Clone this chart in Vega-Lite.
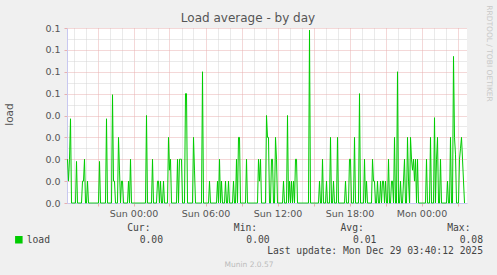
{
"$schema": "https://vega.github.io/schema/vega-lite/v6.json",
"width": 400,
"height": 175,
"autosize": {"type": "none"},
"padding": {"left": 67, "top": 28, "right": 30, "bottom": 72},
"background": "#f0f0f0",
"title": {"text": "Load average - by day", "font": "DejaVu Sans", "fontSize": 12, "fontWeight": "normal", "color": "#555555", "anchor": "middle", "dx": -19, "offset": -20.5, "frame": "group"},
"config": {"view": {"fill": "white", "stroke": null}, "font": "DejaVu Sans"},
"datasets": {
"load": [
{"t":"2025-12-27T18:30","v":0.02},{"t":"2025-12-27T18:35","v":0.01},{"t":"2025-12-27T18:40","v":0.02},{"t":"2025-12-27T18:45","v":0.0385},{"t":"2025-12-27T18:50","v":0},{"t":"2025-12-27T18:55","v":0},
{"t":"2025-12-27T19:00","v":0},{"t":"2025-12-27T19:05","v":0},{"t":"2025-12-27T19:10","v":0},{"t":"2025-12-27T19:15","v":0.019},{"t":"2025-12-27T19:20","v":0},{"t":"2025-12-27T19:25","v":0},{"t":"2025-12-27T19:30","v":0},{"t":"2025-12-27T19:35","v":0},{"t":"2025-12-27T19:40","v":0},{"t":"2025-12-27T19:45","v":0.01},{"t":"2025-12-27T19:50","v":0.01},{"t":"2025-12-27T19:55","v":0.02},
{"t":"2025-12-27T20:00","v":0},{"t":"2025-12-27T20:05","v":0},{"t":"2025-12-27T20:10","v":0.01},{"t":"2025-12-27T20:15","v":0},{"t":"2025-12-27T20:20","v":0},{"t":"2025-12-27T20:25","v":0},{"t":"2025-12-27T20:30","v":0},{"t":"2025-12-27T20:35","v":0},{"t":"2025-12-27T20:40","v":0},{"t":"2025-12-27T20:45","v":0},{"t":"2025-12-27T20:50","v":0},{"t":"2025-12-27T20:55","v":0},
{"t":"2025-12-27T21:00","v":0},{"t":"2025-12-27T21:05","v":0},{"t":"2025-12-27T21:10","v":0.019},{"t":"2025-12-27T21:15","v":0},{"t":"2025-12-27T21:20","v":0},{"t":"2025-12-27T21:25","v":0},{"t":"2025-12-27T21:30","v":0},{"t":"2025-12-27T21:35","v":0},{"t":"2025-12-27T21:40","v":0},{"t":"2025-12-27T21:45","v":0.0385},{"t":"2025-12-27T21:50","v":0},{"t":"2025-12-27T21:55","v":0},
{"t":"2025-12-27T22:00","v":0},{"t":"2025-12-27T22:05","v":0},{"t":"2025-12-27T22:10","v":0},{"t":"2025-12-27T22:15","v":0.0495},{"t":"2025-12-27T22:20","v":0.01},{"t":"2025-12-27T22:25","v":0.01},{"t":"2025-12-27T22:30","v":0},{"t":"2025-12-27T22:35","v":0},{"t":"2025-12-27T22:40","v":0},{"t":"2025-12-27T22:45","v":0.03},{"t":"2025-12-27T22:50","v":0.015},{"t":"2025-12-27T22:55","v":0},
{"t":"2025-12-27T23:00","v":0.01},{"t":"2025-12-27T23:05","v":0.01},{"t":"2025-12-27T23:10","v":0},{"t":"2025-12-27T23:15","v":0},{"t":"2025-12-27T23:20","v":0},{"t":"2025-12-27T23:25","v":0},{"t":"2025-12-27T23:30","v":0},{"t":"2025-12-27T23:35","v":0.01},{"t":"2025-12-27T23:40","v":0},{"t":"2025-12-27T23:45","v":0.02},{"t":"2025-12-27T23:50","v":0},{"t":"2025-12-27T23:55","v":0},
{"t":"2025-12-28T00:00","v":0},{"t":"2025-12-28T00:05","v":0},{"t":"2025-12-28T00:10","v":0},{"t":"2025-12-28T00:15","v":0},{"t":"2025-12-28T00:20","v":0},{"t":"2025-12-28T00:25","v":0},{"t":"2025-12-28T00:30","v":0},{"t":"2025-12-28T00:35","v":0},{"t":"2025-12-28T00:40","v":0},{"t":"2025-12-28T00:45","v":0},{"t":"2025-12-28T00:50","v":0},{"t":"2025-12-28T00:55","v":0},
{"t":"2025-12-28T01:00","v":0},{"t":"2025-12-28T01:05","v":0.04},{"t":"2025-12-28T01:10","v":0},{"t":"2025-12-28T01:15","v":0},{"t":"2025-12-28T01:20","v":0},{"t":"2025-12-28T01:25","v":0},{"t":"2025-12-28T01:30","v":0},{"t":"2025-12-28T01:35","v":0.02},{"t":"2025-12-28T01:40","v":0},{"t":"2025-12-28T01:45","v":0},{"t":"2025-12-28T01:50","v":0},{"t":"2025-12-28T01:55","v":0},
{"t":"2025-12-28T02:00","v":0.01},{"t":"2025-12-28T02:05","v":0.01},{"t":"2025-12-28T02:10","v":0},{"t":"2025-12-28T02:15","v":0.01},{"t":"2025-12-28T02:20","v":0},{"t":"2025-12-28T02:25","v":0},{"t":"2025-12-28T02:30","v":0.01},{"t":"2025-12-28T02:35","v":0},{"t":"2025-12-28T02:40","v":0},{"t":"2025-12-28T02:45","v":0},{"t":"2025-12-28T02:50","v":0},{"t":"2025-12-28T02:55","v":0.03},
{"t":"2025-12-28T03:00","v":0.015},{"t":"2025-12-28T03:05","v":0.02},{"t":"2025-12-28T03:10","v":0},{"t":"2025-12-28T03:15","v":0},{"t":"2025-12-28T03:20","v":0},{"t":"2025-12-28T03:25","v":0},{"t":"2025-12-28T03:30","v":0},{"t":"2025-12-28T03:35","v":0},{"t":"2025-12-28T03:40","v":0.02},{"t":"2025-12-28T03:45","v":0},{"t":"2025-12-28T03:50","v":0.02},{"t":"2025-12-28T03:55","v":0.02},
{"t":"2025-12-28T04:00","v":0.02},{"t":"2025-12-28T04:05","v":0},{"t":"2025-12-28T04:10","v":0},{"t":"2025-12-28T04:15","v":0},{"t":"2025-12-28T04:20","v":0.05},{"t":"2025-12-28T04:25","v":0.05},{"t":"2025-12-28T04:30","v":0},{"t":"2025-12-28T04:35","v":0},{"t":"2025-12-28T04:40","v":0},{"t":"2025-12-28T04:45","v":0},{"t":"2025-12-28T04:50","v":0},{"t":"2025-12-28T04:55","v":0},
{"t":"2025-12-28T05:00","v":0.03},{"t":"2025-12-28T05:05","v":0.015},{"t":"2025-12-28T05:10","v":0},{"t":"2025-12-28T05:15","v":0},{"t":"2025-12-28T05:20","v":0},{"t":"2025-12-28T05:25","v":0},{"t":"2025-12-28T05:30","v":0},{"t":"2025-12-28T05:35","v":0},{"t":"2025-12-28T05:40","v":0},{"t":"2025-12-28T05:45","v":0.06},{"t":"2025-12-28T05:50","v":0},{"t":"2025-12-28T05:55","v":0},
{"t":"2025-12-28T06:00","v":0},{"t":"2025-12-28T06:05","v":0},{"t":"2025-12-28T06:10","v":0},{"t":"2025-12-28T06:15","v":0},{"t":"2025-12-28T06:20","v":0.01},{"t":"2025-12-28T06:25","v":0},{"t":"2025-12-28T06:30","v":0},{"t":"2025-12-28T06:35","v":0},{"t":"2025-12-28T06:40","v":0},{"t":"2025-12-28T06:45","v":0},{"t":"2025-12-28T06:50","v":0},{"t":"2025-12-28T06:55","v":0},
{"t":"2025-12-28T07:00","v":0.01},{"t":"2025-12-28T07:05","v":0},{"t":"2025-12-28T07:10","v":0.02},{"t":"2025-12-28T07:15","v":0},{"t":"2025-12-28T07:20","v":0.01},{"t":"2025-12-28T07:25","v":0},{"t":"2025-12-28T07:30","v":0},{"t":"2025-12-28T07:35","v":0},{"t":"2025-12-28T07:40","v":0.01},{"t":"2025-12-28T07:45","v":0},{"t":"2025-12-28T07:50","v":0},{"t":"2025-12-28T07:55","v":0.01},
{"t":"2025-12-28T08:00","v":0},{"t":"2025-12-28T08:05","v":0},{"t":"2025-12-28T08:10","v":0},{"t":"2025-12-28T08:15","v":0},{"t":"2025-12-28T08:20","v":0.01},{"t":"2025-12-28T08:25","v":0},{"t":"2025-12-28T08:30","v":0},{"t":"2025-12-28T08:35","v":0.02},{"t":"2025-12-28T08:40","v":0},{"t":"2025-12-28T08:45","v":0.03},{"t":"2025-12-28T08:50","v":0.03},{"t":"2025-12-28T08:55","v":0},
{"t":"2025-12-28T09:00","v":0},{"t":"2025-12-28T09:05","v":0},{"t":"2025-12-28T09:10","v":0},{"t":"2025-12-28T09:15","v":0},{"t":"2025-12-28T09:20","v":0},{"t":"2025-12-28T09:25","v":0.02},{"t":"2025-12-28T09:30","v":0},{"t":"2025-12-28T09:35","v":0},{"t":"2025-12-28T09:40","v":0},{"t":"2025-12-28T09:45","v":0},{"t":"2025-12-28T09:50","v":0},{"t":"2025-12-28T09:55","v":0},
{"t":"2025-12-28T10:00","v":0},{"t":"2025-12-28T10:05","v":0},{"t":"2025-12-28T10:10","v":0},{"t":"2025-12-28T10:15","v":0},{"t":"2025-12-28T10:20","v":0},{"t":"2025-12-28T10:25","v":0.02},{"t":"2025-12-28T10:30","v":0.01},{"t":"2025-12-28T10:35","v":0.02},{"t":"2025-12-28T10:40","v":0},{"t":"2025-12-28T10:45","v":0},{"t":"2025-12-28T10:50","v":0},{"t":"2025-12-28T10:55","v":0},
{"t":"2025-12-28T11:00","v":0},{"t":"2025-12-28T11:05","v":0.04},{"t":"2025-12-28T11:10","v":0.03},{"t":"2025-12-28T11:15","v":0.03},{"t":"2025-12-28T11:20","v":0},{"t":"2025-12-28T11:25","v":0},{"t":"2025-12-28T11:30","v":0.02},{"t":"2025-12-28T11:35","v":0.02},{"t":"2025-12-28T11:40","v":0},{"t":"2025-12-28T11:45","v":0},{"t":"2025-12-28T11:50","v":0.03},{"t":"2025-12-28T11:55","v":0.02},
{"t":"2025-12-28T12:00","v":0},{"t":"2025-12-28T12:05","v":0},{"t":"2025-12-28T12:10","v":0},{"t":"2025-12-28T12:15","v":0},{"t":"2025-12-28T12:20","v":0},{"t":"2025-12-28T12:25","v":0},{"t":"2025-12-28T12:30","v":0.01},{"t":"2025-12-28T12:35","v":0},{"t":"2025-12-28T12:40","v":0},{"t":"2025-12-28T12:45","v":0},{"t":"2025-12-28T12:50","v":0.04},{"t":"2025-12-28T12:55","v":0},
{"t":"2025-12-28T13:00","v":0.01},{"t":"2025-12-28T13:05","v":0},{"t":"2025-12-28T13:10","v":0.01},{"t":"2025-12-28T13:15","v":0},{"t":"2025-12-28T13:20","v":0.01},{"t":"2025-12-28T13:25","v":0},{"t":"2025-12-28T13:30","v":0.02},{"t":"2025-12-28T13:35","v":0.02},{"t":"2025-12-28T13:40","v":0},{"t":"2025-12-28T13:45","v":0},{"t":"2025-12-28T13:50","v":0},{"t":"2025-12-28T13:55","v":0},
{"t":"2025-12-28T14:00","v":0},{"t":"2025-12-28T14:05","v":0},{"t":"2025-12-28T14:10","v":0},{"t":"2025-12-28T14:15","v":0},{"t":"2025-12-28T14:20","v":0},{"t":"2025-12-28T14:25","v":0},{"t":"2025-12-28T14:30","v":0},{"t":"2025-12-28T14:35","v":0},{"t":"2025-12-28T14:40","v":0.079},{"t":"2025-12-28T14:45","v":0},{"t":"2025-12-28T14:50","v":0},{"t":"2025-12-28T14:55","v":0},
{"t":"2025-12-28T15:00","v":0},{"t":"2025-12-28T15:05","v":0},{"t":"2025-12-28T15:10","v":0},{"t":"2025-12-28T15:15","v":0},{"t":"2025-12-28T15:20","v":0},{"t":"2025-12-28T15:25","v":0},{"t":"2025-12-28T15:30","v":0.01},{"t":"2025-12-28T15:35","v":0},{"t":"2025-12-28T15:40","v":0},{"t":"2025-12-28T15:45","v":0.02},{"t":"2025-12-28T15:50","v":0},{"t":"2025-12-28T15:55","v":0},
{"t":"2025-12-28T16:00","v":0},{"t":"2025-12-28T16:05","v":0.01},{"t":"2025-12-28T16:10","v":0},{"t":"2025-12-28T16:15","v":0},{"t":"2025-12-28T16:20","v":0},{"t":"2025-12-28T16:25","v":0.03},{"t":"2025-12-28T16:30","v":0},{"t":"2025-12-28T16:35","v":0},{"t":"2025-12-28T16:40","v":0.01},{"t":"2025-12-28T16:45","v":0},{"t":"2025-12-28T16:50","v":0},{"t":"2025-12-28T16:55","v":0},
{"t":"2025-12-28T17:00","v":0.03},{"t":"2025-12-28T17:05","v":0},{"t":"2025-12-28T17:10","v":0},{"t":"2025-12-28T17:15","v":0},{"t":"2025-12-28T17:20","v":0},{"t":"2025-12-28T17:25","v":0},{"t":"2025-12-28T17:30","v":0},{"t":"2025-12-28T17:35","v":0},{"t":"2025-12-28T17:40","v":0.01},{"t":"2025-12-28T17:45","v":0},{"t":"2025-12-28T17:50","v":0},{"t":"2025-12-28T17:55","v":0},
{"t":"2025-12-28T18:00","v":0.02},{"t":"2025-12-28T18:05","v":0.02},{"t":"2025-12-28T18:10","v":0},{"t":"2025-12-28T18:15","v":0},{"t":"2025-12-28T18:20","v":0},{"t":"2025-12-28T18:25","v":0.03},{"t":"2025-12-28T18:30","v":0},{"t":"2025-12-28T18:35","v":0},{"t":"2025-12-28T18:40","v":0},{"t":"2025-12-28T18:45","v":0},{"t":"2025-12-28T18:50","v":0.05},{"t":"2025-12-28T18:55","v":0},
{"t":"2025-12-28T19:00","v":0},{"t":"2025-12-28T19:05","v":0},{"t":"2025-12-28T19:10","v":0},{"t":"2025-12-28T19:15","v":0.02},{"t":"2025-12-28T19:20","v":0},{"t":"2025-12-28T19:25","v":0.01},{"t":"2025-12-28T19:30","v":0},{"t":"2025-12-28T19:35","v":0},{"t":"2025-12-28T19:40","v":0},{"t":"2025-12-28T19:45","v":0},{"t":"2025-12-28T19:50","v":0},{"t":"2025-12-28T19:55","v":0.02},
{"t":"2025-12-28T20:00","v":0.01},{"t":"2025-12-28T20:05","v":0.01},{"t":"2025-12-28T20:10","v":0},{"t":"2025-12-28T20:15","v":0},{"t":"2025-12-28T20:20","v":0.01},{"t":"2025-12-28T20:25","v":0},{"t":"2025-12-28T20:30","v":0},{"t":"2025-12-28T20:35","v":0.01},{"t":"2025-12-28T20:40","v":0},{"t":"2025-12-28T20:45","v":0.01},{"t":"2025-12-28T20:50","v":0.01},{"t":"2025-12-28T20:55","v":0},
{"t":"2025-12-28T21:00","v":0.01},{"t":"2025-12-28T21:05","v":0},{"t":"2025-12-28T21:10","v":0},{"t":"2025-12-28T21:15","v":0.02},{"t":"2025-12-28T21:20","v":0},{"t":"2025-12-28T21:25","v":0},{"t":"2025-12-28T21:30","v":0.01},{"t":"2025-12-28T21:35","v":0.01},{"t":"2025-12-28T21:40","v":0},{"t":"2025-12-28T21:45","v":0.03},{"t":"2025-12-28T21:50","v":0},{"t":"2025-12-28T21:55","v":0},
{"t":"2025-12-28T22:00","v":0.06},{"t":"2025-12-28T22:05","v":0},{"t":"2025-12-28T22:10","v":0},{"t":"2025-12-28T22:15","v":0.01},{"t":"2025-12-28T22:20","v":0},{"t":"2025-12-28T22:25","v":0},{"t":"2025-12-28T22:30","v":0.01},{"t":"2025-12-28T22:35","v":0.02},{"t":"2025-12-28T22:40","v":0},{"t":"2025-12-28T22:45","v":0},{"t":"2025-12-28T22:50","v":0.03},{"t":"2025-12-28T22:55","v":0.01},
{"t":"2025-12-28T23:00","v":0},{"t":"2025-12-28T23:05","v":0.03},{"t":"2025-12-28T23:10","v":0.02},{"t":"2025-12-28T23:15","v":0.015},{"t":"2025-12-28T23:20","v":0.02},{"t":"2025-12-28T23:25","v":0.01},{"t":"2025-12-28T23:30","v":0.02},{"t":"2025-12-28T23:35","v":0},{"t":"2025-12-28T23:40","v":0.02},{"t":"2025-12-28T23:45","v":0},{"t":"2025-12-28T23:50","v":0},{"t":"2025-12-28T23:55","v":0},
{"t":"2025-12-29T00:00","v":0},{"t":"2025-12-29T00:05","v":0},{"t":"2025-12-29T00:10","v":0},{"t":"2025-12-29T00:15","v":0},{"t":"2025-12-29T00:20","v":0},{"t":"2025-12-29T00:25","v":0.02},{"t":"2025-12-29T00:30","v":0},{"t":"2025-12-29T00:35","v":0},{"t":"2025-12-29T00:40","v":0},{"t":"2025-12-29T00:45","v":0.03},{"t":"2025-12-29T00:50","v":0},{"t":"2025-12-29T00:55","v":0},
{"t":"2025-12-29T01:00","v":0},{"t":"2025-12-29T01:05","v":0.039},{"t":"2025-12-29T01:10","v":0},{"t":"2025-12-29T01:15","v":0.02},{"t":"2025-12-29T01:20","v":0.03},{"t":"2025-12-29T01:25","v":0},{"t":"2025-12-29T01:30","v":0},{"t":"2025-12-29T01:35","v":0.02},{"t":"2025-12-29T01:40","v":0},{"t":"2025-12-29T01:45","v":0},{"t":"2025-12-29T01:50","v":0},{"t":"2025-12-29T01:55","v":0},
{"t":"2025-12-29T02:00","v":0},{"t":"2025-12-29T02:05","v":0},{"t":"2025-12-29T02:10","v":0.01},{"t":"2025-12-29T02:15","v":0},{"t":"2025-12-29T02:20","v":0},{"t":"2025-12-29T02:25","v":0.03},{"t":"2025-12-29T02:30","v":0},{"t":"2025-12-29T02:35","v":0},{"t":"2025-12-29T02:40","v":0.067},{"t":"2025-12-29T02:45","v":0.03},{"t":"2025-12-29T02:50","v":0.022},{"t":"2025-12-29T02:55","v":0},
{"t":"2025-12-29T03:00","v":0},{"t":"2025-12-29T03:05","v":0},{"t":"2025-12-29T03:10","v":0.02},{"t":"2025-12-29T03:15","v":0.025},{"t":"2025-12-29T03:20","v":0.03},{"t":"2025-12-29T03:25","v":0.02},{"t":"2025-12-29T03:30","v":0.01},{"t":"2025-12-29T03:35","v":0}
],
"footer": [
{"row":1,"col":1,"text":"Cur:"},{"row":1,"col":2,"text":"Min:"},{"row":1,"col":3,"text":"Avg:"},{"row":1,"col":4,"text":"Max:"},
{"row":2,"col":1,"text":"0.00"},{"row":2,"col":2,"text":"0.00"},{"row":2,"col":3,"text":"0.01"},{"row":2,"col":4,"text":"0.08"},
{"row":3,"col":4,"text":"Last update: Mon Dec 29 03:40:12 2025"}
]
},
"layer": [
{
"data": {"name": "load"},
"mark": {"type": "line", "strokeWidth": 1, "interpolate": "linear"},
"encoding": {
"x": {"field": "t", "type": "temporal",
 "scale": {"domain": [{"year": 2025, "month": 12, "date": 27, "hours": 18, "minutes": 27, "seconds": 30}, {"year": 2025, "month": 12, "date": 29, "hours": 3, "minutes": 47, "seconds": 30}]},
 "axis": {"tickCount": 34,
  "labelExpr": "hours(datum.value) % 6 == 0 ? timeFormat(datum.value, '%a %H:%M') : ''",
  "labelOverlap": false, "labelFlush": false, "labelFontSize": 9.5, "labelColor": "#555555", "labelPadding": 2,
  "gridDash": [1, 1],
  "gridColor": {"condition": {"test": "hours(datum.value) % 3 == 0", "value": "#e8b0b0"}, "value": "#d4d4d4"},
  "tickColor": {"condition": {"test": "hours(datum.value) % 3 == 0", "value": "#e8b0b0"}, "value": "transparent"},
  "tickSize": 3,
  "domainColor": "#c8c8f0",
  "title": "Munin 2.0.57", "titleFont": "DejaVu Sans", "titleFontSize": 7.5, "titleFontWeight": "normal", "titleColor": "#bbbbbb",
  "titleX": 181.5, "titleY": 61, "titleBaseline": "middle", "titleAlign": "center"}},
"y": {"field": "v", "type": "quantitative",
 "scale": {"domain": [0, 0.08], "nice": false},
 "axis": {"values": [0, 0.005, 0.01, 0.015, 0.02, 0.025, 0.03, 0.035, 0.04, 0.045, 0.05, 0.055, 0.06, 0.065, 0.07, 0.075, 0.08],
  "labelExpr": "abs(datum.value*100 - round(datum.value*100)) < 0.01 ? format(datum.value, '.1f') : ''",
  "labelFontSize": 9.5, "labelColor": "#555555", "labelPadding": 4,
  "gridDash": [1, 1],
  "gridColor": {"condition": {"test": "abs(datum.value*100 - round(datum.value*100)) < 0.01", "value": "#e8b0b0"}, "value": "#d4d4d4"},
  "tickColor": {"condition": {"test": "abs(datum.value*100 - round(datum.value*100)) < 0.01", "value": "#e8b0b0"}, "value": "transparent"},
  "tickSize": 3,
  "domainColor": "#c8c8f0",
  "title": "load", "titleFontSize": 10.5, "titleFontWeight": "normal", "titleColor": "#555555",
  "titleX": -57.5, "titleY": 86, "titleBaseline": "middle", "titleAlign": "center", "titleAngle": -90}},
"color": {"datum": "load", "scale": {"range": ["#00cc00"]},
 "legend": {"orient": "none", "legendX": -53, "legendY": 207, "title": null, "symbolType": "square", "symbolSize": 36,
  "symbolFillColor": "#00cc00", "symbolStrokeColor": "#00cc00", "labelFont": "DejaVu Sans Mono", "labelFontSize": 9.7, "labelColor": "#444444", "labelOffset": 3, "padding": 0}}
}
},
{
"data": {"name": "footer"},
"encoding": {
"x": {"field": "col", "type": "quantitative", "scale": {"domain": [1, 4], "range": [96, 416]}, "axis": null},
"y": {"field": "row", "type": "quantitative", "scale": {"domain": [1, 3], "range": [200, 223]},
 "axis": {"orient": "right", "labels": false, "ticks": false, "domain": false, "grid": false,
  "title": "RRDTOOL / TOBI OETIKER", "titleFont": "DejaVu Sans", "titleFontSize": 7.5, "titleFontWeight": "normal", "titleColor": "#c8c8c8",
  "titleAngle": 90, "titleX": 21, "titleY": 25, "titleBaseline": "middle", "titleAlign": "center"}},
"text": {"field": "text"}
},
"layer": [
{"transform": [{"filter": "datum.row == 1"}], "mark": {"type": "text", "align": "right", "baseline": "middle", "dx": -12.5, "font": "DejaVu Sans Mono", "fontSize": 9.7, "color": "#444444"}},
{"transform": [{"filter": "datum.row > 1"}], "mark": {"type": "text", "align": "right", "baseline": "middle", "font": "DejaVu Sans Mono", "fontSize": 9.7, "color": "#444444"}}
]
}
],
"resolve": {"scale": {"x": "independent", "y": "independent"}, "axis": {"x": "independent", "y": "independent"}}
}
